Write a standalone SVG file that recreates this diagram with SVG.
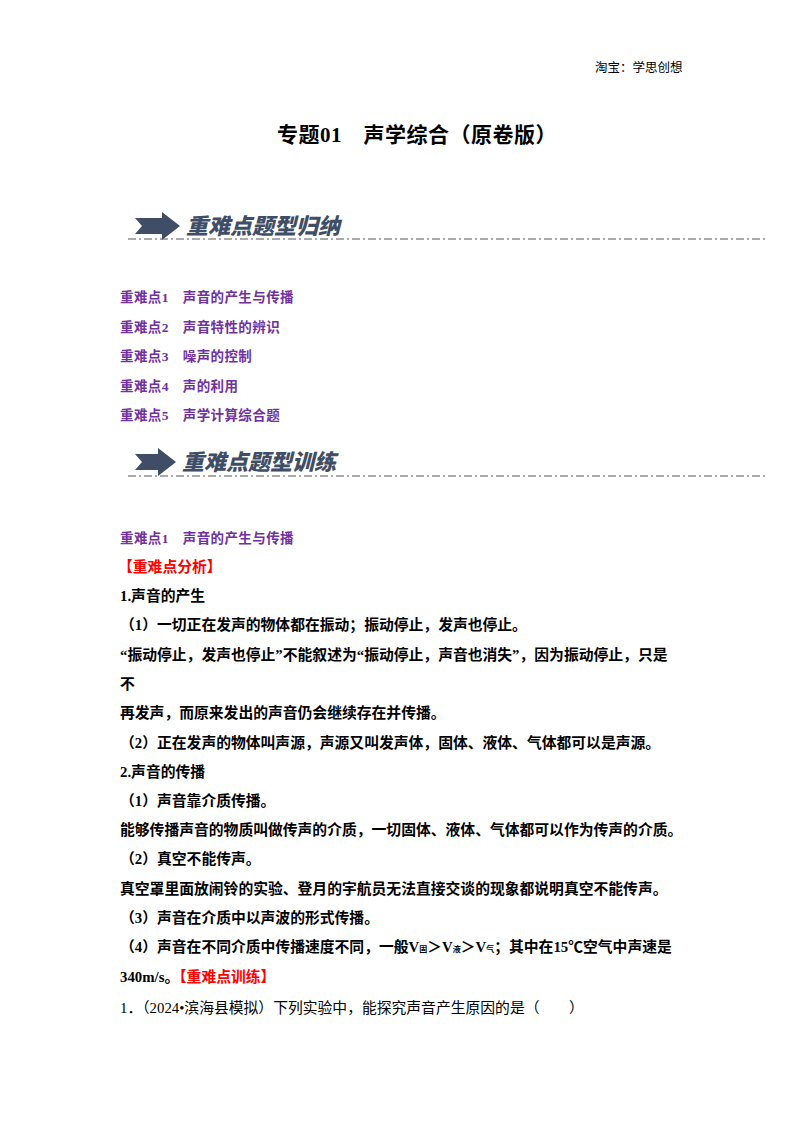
<svg xmlns="http://www.w3.org/2000/svg" width="800" height="1132" viewBox="0 0 800 1132">
<style>
text{font-family:"Liberation Serif","Noto Sans CJK SC",serif;font-size:14.8px;fill:#000}
.b{font-weight:bold}
.p{fill:#7030A0;font-weight:bold;font-size:13.5px;letter-spacing:0.4px}
.r{fill:#FF0000;font-weight:bold}
.ban{font-family:"Noto Sans CJK SC",sans-serif;font-weight:900;font-size:22px;fill:#3F4E66;font-style:italic}
.dl{stroke:#555;stroke-width:1;stroke-dasharray:8 3 2 3;fill:none}
</style>
<rect width="800" height="1132" fill="#fff"/>
<text x="595" y="72" style="font-size:12.5px">淘宝：学思创想</text>
<text x="417" y="142" text-anchor="middle" class="b" style="font-size:21px;letter-spacing:0.5px">专题01　声学综合（原卷版）</text>
<g id="banner1">
<polygon points="135,218 162,218 162,212 180,226 162,240 162,234 135,234 142,226" fill="#3F4E66"/>
<text x="186" y="234" class="ban">重难点题型归纳</text>
<path class="dl" d="M128 239H765"/>
</g>
<g id="toc">
<text x="120" y="302" class="p">重难点1　声音的产生与传播</text>
<text x="120" y="332" class="p">重难点2　声音特性的辨识</text>
<text x="120" y="361" class="p">重难点3　噪声的控制</text>
<text x="120" y="391" class="p">重难点4　声的利用</text>
<text x="120" y="420" class="p">重难点5　声学计算综合题</text>
</g>
<g id="banner2">
<polygon points="135,454 158,454 158,448 176,462 158,476 158,470 135,470 142,462" fill="#3F4E66"/>
<text x="182" y="470" class="ban">重难点题型训练</text>
<path class="dl" d="M128 476H765"/>
</g>
<g id="body">
<text x="120" y="543" class="p">重难点1　声音的产生与传播</text>
<text x="118" y="572" class="r">【重难点分析】</text>
<text x="120" y="601" class="b">1.声音的产生</text>
<text x="120" y="630" class="b">（1）一切正在发声的物体都在振动；振动停止，发声也停止。</text>
<text x="120" y="660" class="b">“振动停止，发声也停止”不能叙述为“振动停止，声音也消失”，因为振动停止，只是</text>
<text x="120" y="689" class="b">不</text>
<text x="120" y="718" class="b">再发声，而原来发出的声音仍会继续存在并传播。</text>
<text x="120" y="748" class="b">（2）正在发声的物体叫声源，声源又叫发声体，固体、液体、气体都可以是声源。</text>
<text x="120" y="777" class="b">2.声音的传播</text>
<text x="120" y="806" class="b">（1）声音靠介质传播。</text>
<text x="120" y="835" class="b">能够传播声音的物质叫做传声的介质，一切固体、液体、气体都可以作为传声的介质。</text>
<text x="120" y="864" class="b">（2）真空不能传声。</text>
<text x="120" y="894" class="b">真空罩里面放闹铃的实验、登月的宇航员无法直接交谈的现象都说明真空不能传声。</text>
<text x="120" y="923" class="b">（3）声音在介质中以声波的形式传播。</text>
<text x="120" y="952" class="b">（4）声音在不同介质中传播速度不同，一般V<tspan style="font-size:8px">固</tspan>＞V<tspan style="font-size:8px">液</tspan>＞V<tspan style="font-size:8px">气</tspan>；其中在15℃空气中声速是</text>
<text x="120" y="982" class="b">340m/s。<tspan class="r">【重难点训练】</tspan></text>
<text x="120" y="1013">1．（2024•滨海县模拟）下列实验中，能探究声音产生原因的是（　　）</text>
</g>
</svg>
